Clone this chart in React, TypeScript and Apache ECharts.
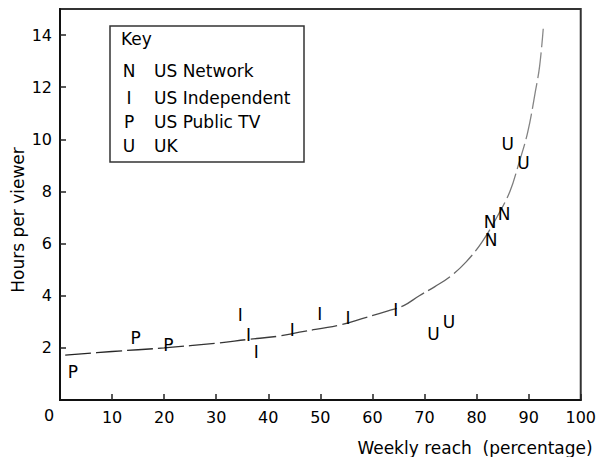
import React, { useEffect, useRef } from "react";
import * as echarts from "echarts";

const FONT = "DejaVu Sans";

// Fitted curve (Hours per viewer vs weekly reach)
const curvePoints: [number, number][] = [
  [1, 1.72], [10, 1.86], [20, 2.0], [30, 2.18], [36, 2.32], [42, 2.45],
  [46, 2.6], [54, 2.89], [58, 3.12], [63, 3.42], [66, 3.62], [69, 4.0],
  [72, 4.35], [75, 4.75], [78, 5.3], [81, 6.05], [84, 7.05], [86.4, 8.0],
  [88, 9.0], [89.8, 10.26], [91.3, 11.85], [92.1, 12.8], [92.8, 14.24],
];

const networkPoints: [number, number][] = [[82.6, 6.83], [85.3, 7.13], [82.8, 6.13]];
const independentPoints: [number, number][] = [
  [34.6, 3.26], [36.2, 2.49], [37.7, 1.85], [44.6, 2.69], [49.9, 3.3], [55.3, 3.13], [64.5, 3.46],
];
const publicPoints: [number, number][] = [[2.45, 1.08], [14.5, 2.36], [20.8, 2.12]];
const ukPoints: [number, number][] = [[71.7, 2.53], [74.7, 2.98], [86.0, 9.81], [89.0, 9.08]];

const keyLetters = ["N", "I", "P", "U"];
const keyLabels = ["US Network", "US Independent", "US Public TV", "UK"];

const xTitle = "Weekly reach  (percentage)";
const yTitle = "Hours per viewer";

function letterSeries(letter: string, data: [number, number][]) {
  return {
    type: "scatter",
    data,
    symbol: "circle",
    symbolSize: 1,
    itemStyle: { color: "#fff", opacity: 0 },
    label: {
      show: true,
      position: "inside",
      formatter: letter,
      fontFamily: FONT,
      fontSize: 17,
      color: "#000",
      opacity: 1,
      textBorderWidth: 0,
      verticalAlign: "middle",
      align: "center",
    },
    emphasis: { disabled: true },
    z: 5,
  };
}

export default function App() {
  const ref = useRef<HTMLDivElement>(null);
  useEffect(() => {
    if (!ref.current) return;
    const chart = echarts.init(ref.current, undefined, { renderer: "svg" });
    const keyRowsY = [71, 97.5, 121.5, 145.5];
    const graphics: any[] = [
      {
        type: "rect",
        shape: { x: 110, y: 26, width: 194, height: 136 },
        style: { fill: "#fff", stroke: "#333", lineWidth: 1.5 },
        z: 10,
      },
      {
        type: "text",
        x: 121,
        y: 39,
        style: { text: "Key", font: `17px '${FONT}'`, fill: "#000", align: "left", verticalAlign: "middle" },
        z: 11,
      },
      {
        type: "text",
        x: 49,
        y: 415,
        style: { text: "0", font: `16px '${FONT}'`, fill: "#000", align: "center", verticalAlign: "middle" },
      },
      {
        type: "text",
        x: 475,
        y: 448,
        style: { text: xTitle, font: `17px '${FONT}'`, fill: "#000", align: "center", verticalAlign: "middle" },
      },
      {
        type: "text",
        x: 17.5,
        y: 220,
        rotation: Math.PI / 2,
        style: { text: yTitle, font: `17px '${FONT}'`, fill: "#000", align: "center", verticalAlign: "middle" },
      },
    ];
    keyLetters.forEach((l, i) => {
      graphics.push({
        type: "text",
        x: 129,
        y: keyRowsY[i],
        style: { text: l, font: `17px '${FONT}'`, fill: "#000", align: "center", verticalAlign: "middle" },
        z: 11,
      });
      graphics.push({
        type: "text",
        x: 154,
        y: keyRowsY[i],
        style: { text: keyLabels[i], font: `17px '${FONT}'`, fill: "#000", align: "left", verticalAlign: "middle" },
        z: 11,
      });
    });

    chart.setOption({
      animation: false,
      backgroundColor: "#fff",
      grid: {
        left: 60,
        right: 17,
        top: 9,
        bottom: 57,
        show: true,
        borderColor: "#333",
        borderWidth: 2,
        backgroundColor: "transparent",
      },
      xAxis: {
        type: "value",
        min: 0,
        max: 100,
        interval: 10,
        axisLine: { show: true, lineStyle: { color: "#111", width: 2 } },
        axisTick: { show: true, inside: true, length: 6, lineStyle: { color: "#222", width: 1.5 } },
        axisLabel: {
          showMinLabel: false,
          fontFamily: FONT,
          fontSize: 16,
          color: "#000",
          margin: 9,
        },
        splitLine: { show: false },
      },
      yAxis: {
        type: "value",
        min: 0,
        max: 15,
        interval: 2,
        axisLine: { show: true, lineStyle: { color: "#111", width: 2 } },
        axisTick: { show: true, inside: true, length: 6, lineStyle: { color: "#222", width: 1.5 } },
        axisLabel: {
          showMinLabel: false,
          showMaxLabel: false,
          fontFamily: FONT,
          fontSize: 16,
          color: "#000",
          margin: 8,
          formatter: (v: number) => (v % 2 === 0 ? String(v) : ""),
        },
        splitLine: { show: false },
      },
      series: [
        {
          type: "line",
          data: curvePoints,
          smooth: 0.4,
          symbol: "none",
          lineStyle: {
            width: 1.3,
            type: [26, 5],
            color: {
              type: "linear",
              x: 0,
              y: 0,
              x2: 1,
              y2: 0,
              colorStops: [
                { offset: 0, color: "#222" },
                { offset: 0.6, color: "#444" },
                { offset: 1, color: "#888" },
              ],
            },
          },
          z: 3,
        },
        letterSeries("N", networkPoints),
        letterSeries("I", independentPoints),
        letterSeries("P", publicPoints),
        letterSeries("U", ukPoints),
      ],
      graphic: graphics,
    });
    return () => chart.dispose();
  }, []);
  return (
    <div
      ref={ref}
      style={{ position: "absolute", left: 0, top: 0, width: 599, height: 457 }}
    />
  );
}
